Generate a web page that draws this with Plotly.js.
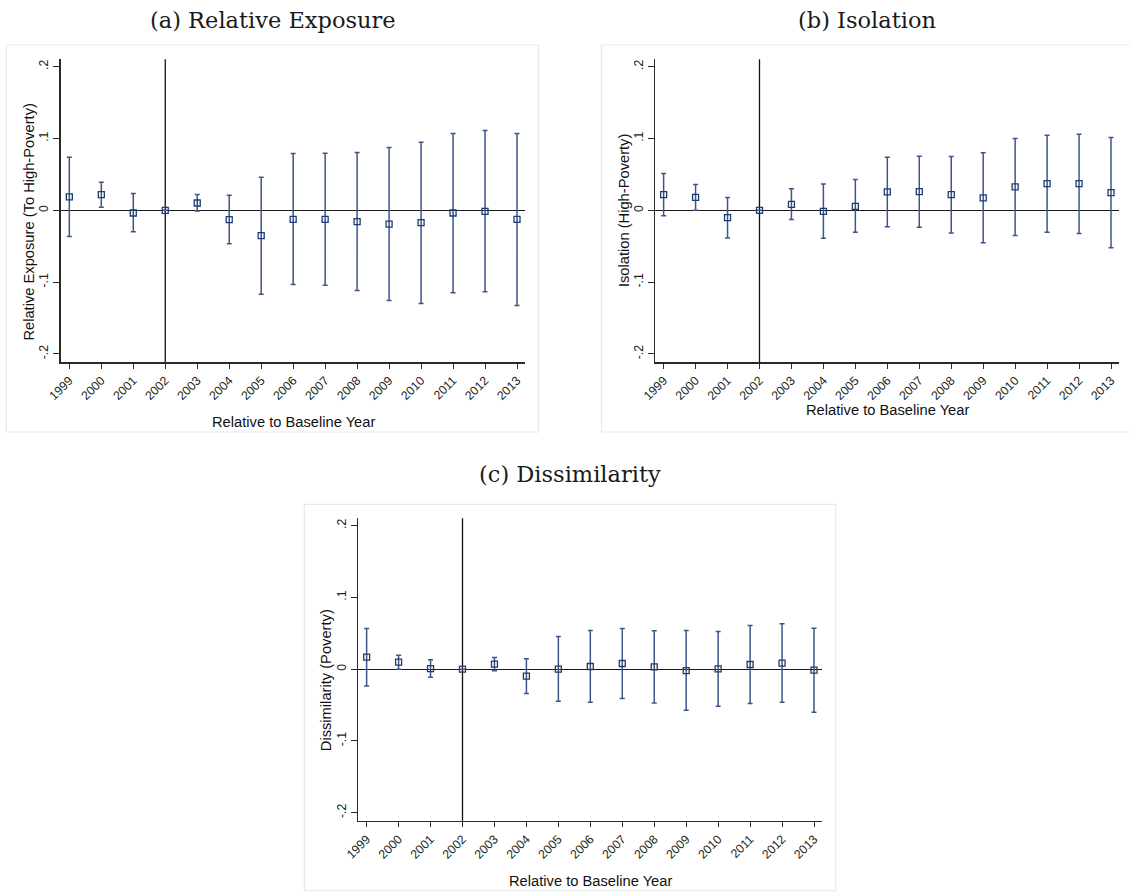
<!DOCTYPE html>
<html>
<head>
<meta charset="utf-8">
<script src="https://cdn.plot.ly/plotly-3.0.1.min.js"></script>
<style>html,body{margin:0;padding:0;background:#fff;}#chart{width:1130px;height:892px;}</style>
</head>
<body>
<div id="chart"></div>
<script>
// ---------- data ----------
const years = [1999, 2000, 2001, 2002, 2003, 2004, 2005, 2006, 2007, 2008, 2009, 2010, 2011, 2012, 2013];
const baselineYear = 2002;

const exposureEst = [0.0186, 0.0219, -0.0037, 0, 0.0102, -0.013, -0.0353, -0.0126, -0.0126, -0.0158, -0.0191, -0.0172, -0.0037, -0.0014, -0.0126];
const exposureLo  = [-0.0363, 0.0042, -0.0298, 0, -0.001, -0.0465, -0.1167, -0.1033, -0.1042, -0.1116, -0.1256, -0.1298, -0.1149, -0.1135, -0.1326];
const exposureHi  = [0.074, 0.039, 0.0233, 0, 0.0219, 0.021, 0.046, 0.079, 0.0795, 0.0805, 0.0874, 0.0949, 0.107, 0.1112, 0.107];

const isolationEst = [0.0219, 0.0181, -0.0102, 0, 0.0084, -0.0014, 0.0056, 0.0256, 0.026, 0.0219, 0.0172, 0.0326, 0.0372, 0.0372, 0.0247];
const isolationLo  = [-0.0074, 0.0, -0.0386, 0, -0.0126, -0.039, -0.0307, -0.0228, -0.0237, -0.0316, -0.0451, -0.0349, -0.0307, -0.0321, -0.0521];
const isolationHi  = [0.0512, 0.0358, 0.0177, 0, 0.0302, 0.0367, 0.0428, 0.074, 0.0753, 0.0749, 0.08, 0.1, 0.1047, 0.106, 0.1014];

const dissimEst = [0.0167, 0.0098, 0.0009, 0, 0.007, -0.0098, 0, 0.0037, 0.0079, 0.0033, -0.0019, 0.0005, 0.0065, 0.0084, -0.0014];
const dissimLo  = [-0.0233, 0.0, -0.0112, 0, -0.0023, -0.034, -0.0447, -0.046, -0.041, -0.047, -0.0572, -0.0516, -0.0479, -0.046, -0.06];
const dissimHi  = [0.0567, 0.0195, 0.013, 0, 0.0163, 0.0144, 0.0456, 0.054, 0.0567, 0.0535, 0.054, 0.0526, 0.0609, 0.0633, 0.0572];

const yTickVals = [-0.2, -0.1, 0, 0.1, 0.2];
const yTickText = ['-.2', '-.1', '0', '.1', '.2'];
const xTickText = years.map(String);

const panelTitles = ['(a) Relative Exposure', '(b) Isolation', '(c) Dissimilarity'];
const yTitles = ['Relative Exposure (To High-Poverty)', 'Isolation (High-Poverty)', 'Dissimilarity (Poverty)'];
const xTitle = 'Relative to Baseline Year';

// ---------- layout helpers ----------
const W = 1130, H = 892;
const px = v => v / W;
const py = v => 1 - v / H;

const markColor = '#1c3b6e';
const barColor = '#3d5687';
const axisColor = '#2a2a2a';
const sans = 'Liberation Sans, Arial, sans-serif';
const serif = 'DejaVu Serif, serif';

function trace(est, lo, hi, ax) {
  return {
    type: 'scatter', mode: 'markers',
    x: years, y: est,
    xaxis: 'x' + (ax === 1 ? '' : ax), yaxis: 'y' + (ax === 1 ? '' : ax),
    marker: {symbol: 'square-open', size: 6, color: markColor, line: {width: 1.3, color: markColor}},
    error_y: {
      type: 'data', symmetric: false,
      array: hi.map((h, i) => h - est[i]),
      arrayminus: lo.map((l, i) => est[i] - l),
      color: barColor, thickness: 1.5, width: 2.5
    },
    showlegend: false, hoverinfo: 'x+y'
  };
}

function xaxis(domain, anchor) {
  return {
    domain: domain, anchor: anchor, range: [1998.73, 2013.25],
    tickvals: years, ticktext: xTickText, tickangle: -45,
    ticks: 'outside', ticklen: 5, tickwidth: 1, tickcolor: axisColor,
    showline: true, linecolor: axisColor, linewidth: 1.5,
    showgrid: false, zeroline: false,
    tickfont: {family: sans, size: 12.3, color: '#222'}, automargin: false
  };
}
function yaxis(domain, anchor) {
  return {
    domain: domain, anchor: anchor, range: [-0.2112, 0.2103],
    tickvals: yTickVals, ticktext: yTickText, tickangle: -90,
    ticks: 'outside', ticklen: 6, tickwidth: 1, tickcolor: axisColor,
    showline: true, linecolor: axisColor, linewidth: 1.5,
    showgrid: false, zeroline: true, zerolinecolor: '#1a1a1a', zerolinewidth: 1.3,
    tickfont: {family: sans, size: 12.3, color: '#222'}, automargin: false
  };
}

const topY = [py(362), py(59.3)];
const botY = [py(820.7), py(518.3)];

const data = [
  trace(exposureEst, exposureLo, exposureHi, 1),
  trace(isolationEst, isolationLo, isolationHi, 2),
  trace(dissimEst, dissimLo, dissimHi, 3)
];

function frame(x0, y0, x1, y1) {
  return {type: 'rect', xref: 'paper', yref: 'paper', x0: px(x0), x1: px(x1), y0: py(y1), y1: py(y0),
          line: {color: '#e3ecec', width: 1.2}, fillcolor: 'rgba(0,0,0,0)', layer: 'below'};
}
function vline(ax) {
  return {type: 'line', xref: 'x' + (ax === 1 ? '' : ax), yref: 'y' + (ax === 1 ? '' : ax) + ' domain',
          x0: baselineYear, x1: baselineYear, y0: 0, y1: 1, line: {color: '#111', width: 1.3}, layer: 'below'};
}

function ann(text, x, y, opts) {
  return Object.assign({text: text, xref: 'paper', yref: 'paper', x: px(x), y: py(y),
    xanchor: 'center', yanchor: 'middle', showarrow: false}, opts);
}

const titleFont = {family: serif, size: 22.5, color: '#1a1a1a'};
const axTitleFont = {family: sans, size: 14.7, color: '#111'};

const layout = {
  width: W, height: H,
  margin: {l: 0, r: 0, t: 0, b: 0},
  paper_bgcolor: '#fff', plot_bgcolor: '#fff',
  showlegend: false,
  xaxis: xaxis([px(60.7), px(525)], 'y'),
  yaxis: yaxis(topY, 'x'),
  xaxis2: xaxis([px(655), px(1119)], 'y2'),
  yaxis2: yaxis(topY, 'x2'),
  xaxis3: xaxis([px(358), px(822)], 'y3'),
  yaxis3: yaxis(botY, 'x3'),
  shapes: [
    frame(6.4, 45, 538.6, 432),
    frame(601.4, 45, 1135, 432),
    frame(304.4, 504.3, 835.7, 890.7),
    vline(1), vline(2), vline(3)
  ],
  annotations: [
    ann(panelTitles[0], 272.5, 20.5, {font: titleFont}),
    ann(panelTitles[1], 866.7, 20.5, {font: titleFont}),
    ann(panelTitles[2], 570, 474, {font: titleFont}),
    ann(yTitles[0], 28.6, 222, {textangle: -90, font: axTitleFont}),
    ann(yTitles[1], 623.6, 210.5, {textangle: -90, font: axTitleFont}),
    ann(yTitles[2], 326.2, 680, {textangle: -90, font: axTitleFont}),
    ann(xTitle, 293, 421.7, {font: axTitleFont}),
    ann(xTitle, 887, 410, {font: axTitleFont}),
    ann(xTitle, 590.3, 881, {font: axTitleFont})
  ]
};

Plotly.newPlot('chart', data, layout, {displayModeBar: false, staticPlot: true});
</script>
</body>
</html>
